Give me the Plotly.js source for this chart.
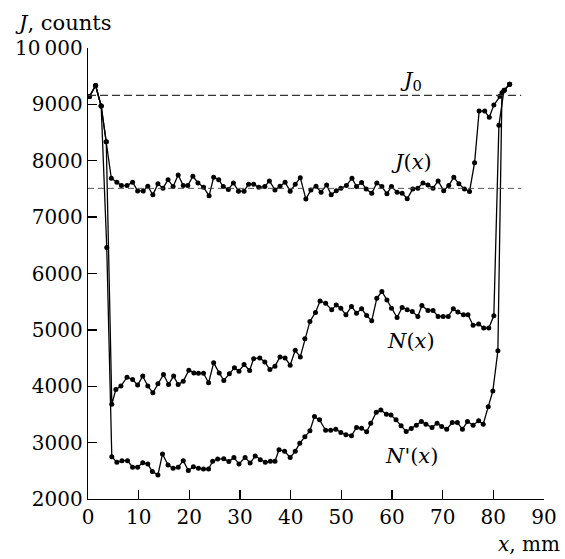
<!DOCTYPE html>
<html>
<head>
<meta charset="utf-8">
<script src="https://cdn.plot.ly/plotly-3.0.1.min.js"></script>
<style>html,body{margin:0;padding:0;background:#fff;}#chart{width:565px;height:559px;}</style>
</head>
<body>
<div id="chart"></div>
<script>
// ---- data ----
const jX = [0.3,1.5,2.6,3.6,4.6,5.7,6.6,7.7,8.8,9.8,10.9,11.8,12.8,13.8,14.8,15.8,16.8,17.8,18.8,19.7,20.7,21.7,22.8,23.9,24.8,25.8,26.7,27.7,28.7,29.7,30.8,31.7,32.7,33.7,34.9,35.8,36.9,37.9,38.9,39.9,40.9,41.9,43,44,45,46,47.1,48,49,49.9,51,52.1,53,54,54.9,56,57,58,59,59.9,61,62,63,64.1,65.1,66.1,67.1,68.1,69.1,70.2,71.2,72.2,73.2,74.3,75.3,76.3,77.2,78.3,79.2,80.1,81.3,82.2,83.2];
const jY = [9140,9335,8970,8335,7690,7620,7560,7560,7620,7465,7465,7548,7395,7590,7513,7665,7542,7748,7560,7560,7725,7607,7530,7378,7707,7665,7542,7490,7607,7460,7460,7584,7584,7530,7542,7642,7483,7548,7620,7460,7584,7700,7320,7483,7548,7443,7572,7395,7470,7513,7560,7690,7542,7613,7500,7425,7607,7542,7413,7542,7443,7425,7325,7500,7513,7607,7572,7513,7642,7470,7560,7707,7590,7500,7455,7965,8882,8882,8770,8988,9146,9252,9355];

const nX = [0.3,1.5,2.6,3.6,4.7,5.5,6.5,7.7,8.8,9.8,10.8,11.8,12.8,13.8,14.9,15.9,16.9,17.8,18.8,19.9,20.9,21.8,22.8,23.8,24.8,25.9,26.8,27.9,28.9,29.8,30.8,31.9,32.7,33.9,34.9,35.9,36.9,37.9,38.9,39.9,40.9,41.9,42.8,43.8,44.9,45.8,46.9,48.1,49,49.9,50.9,52,53,54,55,56,57,58,59,59.9,61,62,63,64,65.1,65.9,67.1,68.1,69.1,70.1,71.1,72.1,73,74.1,75,76,77.1,78.1,79.1,80.1,81.1,82.1,83.2];
const nY = [9140,9335,8970,8335,3680,3944,4004,4160,4120,4020,4180,4004,3885,4044,4208,4032,4180,4032,4090,4285,4237,4230,4230,4062,4415,4237,4102,4220,4326,4268,4385,4280,4490,4503,4432,4297,4356,4520,4503,4374,4638,4520,4843,5150,5309,5510,5473,5355,5443,5385,5267,5415,5297,5373,5255,5160,5560,5680,5530,5385,5220,5397,5355,5326,5238,5432,5344,5344,5238,5238,5238,5373,5315,5267,5267,5080,5103,5032,5032,5250,8630,9252,9355];

const npX = [0.3,1.5,2.6,3.7,4.7,5.7,6.7,7.8,8.8,9.8,10.8,11.8,12.7,13.8,14.7,15.8,16.8,17.8,18.8,19.8,20.8,21.8,22.8,23.8,24.6,25.6,26.8,27.8,28.8,29.8,31,32,33,34,35,36,36.9,37.7,38.8,39.9,40.9,41.8,42.8,43.8,44.7,45.7,46.9,47.9,48.9,49.9,50.9,52,53,54,55,55.8,56.9,57.8,58.9,59.8,60.8,61.8,62.8,63.8,64.8,65.8,66.7,67.9,68.9,69.8,70.8,71.9,72.9,73.9,74.9,76,77.1,78,79,79.9,80.9,81.7,83.2];
const npY = [9140,9335,8970,6460,2750,2650,2680,2680,2563,2563,2645,2620,2487,2427,2797,2603,2545,2563,2680,2504,2574,2545,2533,2533,2668,2709,2715,2663,2738,2620,2738,2638,2762,2698,2650,2668,2668,2875,2845,2738,2845,2990,3104,3210,3462,3404,3220,3220,3238,3180,3140,3122,3268,3257,3192,3345,3540,3580,3503,3490,3404,3298,3198,3250,3310,3374,3327,3268,3345,3286,3238,3356,3356,3238,3374,3310,3386,3327,3638,3915,4630,9206,9355];

const j0Level = 9160;
const jLevel = 7510;
const refStart = 0;
const refEnd = 85.5;

const xTickVals = [0,10,20,30,40,50,60,70,80,90];
const xTickText = ["0","10","20","30","40","50","60","70","80","90"];
const yTickVals = [2000,3000,4000,5000,6000,7000,8000,9000,10000];
const yTickText = ["2000","3000","4000","5000","6000","7000","8000","9000","10\u2009000"];

// ---- drawing ----
const FONT = "DejaVu Serif";
function series(x, y) {
  return {
    x: x, y: y, type: "scatter", mode: "lines+markers",
    line: {color: "#000", width: 1.3},
    marker: {color: "#000", size: 5},
    hoverinfo: "skip", showlegend: false, cliponaxis: false
  };
}
const traces = [series(jX, jY), series(nX, nY), series(npX, npY)];
const tf = {family: FONT, size: 20, color: "#000"};
const lf = {family: FONT, size: 21, color: "#000"};

const layout = {
  width: 565, height: 559,
  margin: {l: 88, r: 21, t: 48, b: 60},
  paper_bgcolor: "#fff", plot_bgcolor: "#fff",
  font: {family: FONT, size: 20, color: "#000"},
  showlegend: false,
  xaxis: {
    range: [0, 90], tickmode: "array", tickvals: xTickVals, ticktext: xTickText,
    ticks: "inside", ticklen: 9, tickwidth: 1.3, tickcolor: "#000",
    showline: true, linecolor: "#000", linewidth: 1.3,
    showgrid: false, zeroline: false, tickfont: tf
  },
  yaxis: {
    range: [2000, 10000], tickmode: "array", tickvals: yTickVals, ticktext: yTickText,
    ticks: "inside", ticklen: 9, tickwidth: 1.3, tickcolor: "#000",
    showline: true, linecolor: "#000", linewidth: 1.3,
    showgrid: false, zeroline: false, tickfont: tf
  },
  shapes: [
    {type: "line", xref: "x", yref: "y", x0: refStart, x1: refEnd, y0: j0Level, y1: j0Level,
     line: {color: "#333", width: 1.2, dash: "8px,4px"}},
    {type: "line", xref: "x", yref: "y", x0: refStart, x1: refEnd, y0: jLevel, y1: jLevel,
     line: {color: "#444", width: 0.9, dash: "6px,4px"}}
  ],
  annotations: [
    {text: "<i>J</i>, counts", xref: "paper", yref: "paper", x: -0.164, y: 1.055,
     xanchor: "left", yanchor: "middle", showarrow: false, font: lf},
    {text: "<i>x</i>, mm", xref: "paper", yref: "paper", x: 1.04, y: -0.1,
     xanchor: "right", yanchor: "middle", showarrow: false, font: {family: FONT, size: 20, color: "#000"}},
    {text: "<i>J</i><sub>0</sub>", xref: "x", yref: "y", x: 63.8, y: 9420,
     xanchor: "center", yanchor: "middle", showarrow: false, font: lf},
    {text: "<i>J</i>(<i>x</i>)", xref: "x", yref: "y", x: 63.8, y: 7984,
     xanchor: "center", yanchor: "middle", showarrow: false, font: lf},
    {text: "<i>N</i>(<i>x</i>)", xref: "x", yref: "y", x: 63.8, y: 4810,
     xanchor: "center", yanchor: "middle", showarrow: false, font: lf},
    {text: "<i>N</i>'(<i>x</i>)", xref: "x", yref: "y", x: 63.8, y: 2771,
     xanchor: "center", yanchor: "middle", showarrow: false, font: lf}
  ]
};

Plotly.newPlot("chart", traces, layout, {staticPlot: true, displayModeBar: false});
</script>
</body>
</html>
